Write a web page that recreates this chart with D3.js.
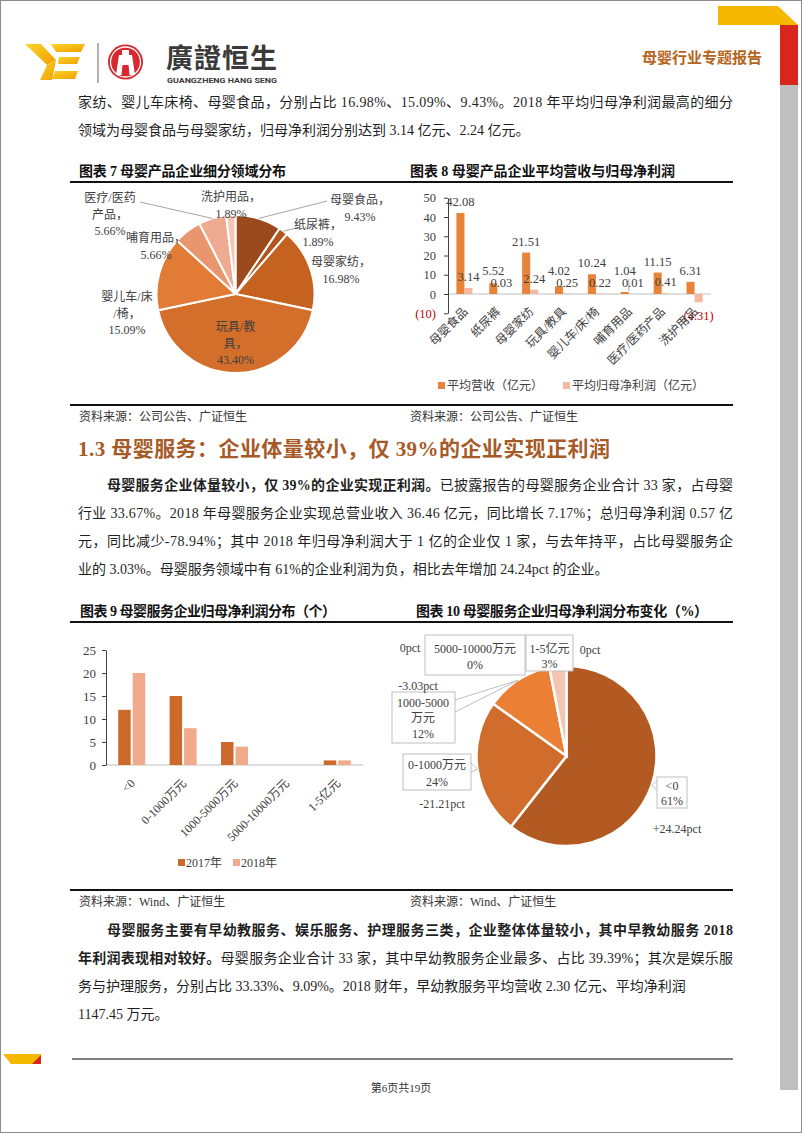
<!DOCTYPE html>
<html><head><meta charset="utf-8">
<script src="https://cdn.jsdelivr.net/npm/d3@7/dist/d3.min.js"></script>
<style>html,body{margin:0;padding:0;background:#fff;} svg{display:block;}</style>
</head><body>
<svg id="page" width="802" height="1133"></svg>
<script>
// ---------------- DATA ----------------
const pie7Categories = ["母婴食品","纸尿裤","母婴家纺","玩具/教具","婴儿车/床/椅","哺育用品","医疗/医药产品","洗护用品"];
const pie7Values = [9.43, 1.89, 16.98, 43.40, 15.09, 5.66, 5.66, 1.89];

const bar8Categories = ["母婴食品","纸尿裤","母婴家纺","玩具/教具","婴儿车/床/椅","哺育用品","医疗/医药产品","洗护用品"];
const bar8Revenue = [42.08, 5.52, 21.51, 4.02, 10.24, 1.04, 11.15, 6.31];
const bar8Profit = [3.14, 0.03, 2.24, 0.25, 0.22, 0.01, 0.41, -4.31];
const bar8Ticks = [-10, 0, 10, 20, 30, 40, 50];
const bar8Series = ["平均营收（亿元）", "平均归母净利润（亿元）"];

const bar9Categories = ["<0","0-1000万元","1000-5000万元","5000-10000万元","1-5亿元"];
const bar9Y2017 = [12, 15, 5, 0, 1];
const bar9Y2018 = [20, 8, 4, 0, 1];
const bar9Ticks = [0, 5, 10, 15, 20, 25];
const bar9Series = ["2017年", "2018年"];

const pie10Categories = ["<0","0-1000万元","1000-5000万元","5000-10000万元","1-5亿元"];
const pie10Values = [60.61, 24.24, 12.12, 0, 3.03];
const pie10Change = ["+24.24pct","-21.21pct","-3.03pct","0pct","0pct"];

// ---------------- STYLE / LAYOUT ----------------
const SERIF = "'Liberation Serif','Noto Sans CJK SC',serif";
const SANS = "'Noto Sans CJK SC','Noto Sans',sans-serif";
const BROWN = "#a65a28";

const pie7Colors = ["#9a4a1c","#b3551f","#c6621f","#d36f2b","#e27b36","#e9956e","#eeab92","#f4c6b5"];
// label placement relative to pie centre: [dx, dy(first baseline), wrap length]
const pie7Label = {
  "母婴食品": {dx:124.5, dy:-90, wrap:0, lead:[91.5,-93]},
  "纸尿裤": {dx:82.5, dy:-65, wrap:0, lead:[64.5,-67]},
  "母婴家纺": {dx:105.5, dy:-28, wrap:0},
  "玩具/教具": {dx:0, dy:37, wrap:4},
  "婴儿车/床/椅": {dx:-108.5, dy:7, wrap:5},
  "哺育用品": {dx:-79.5, dy:-52, wrap:0},
  "医疗/医药产品": {dx:-125.5, dy:-92, wrap:5, lead:[-95.5,-92]},
  "洗护用品": {dx:-4.5, dy:-93, wrap:0}
};
const pie10Colors = ["#b35a22","#d06d2c","#eb8035","#e9956e","#f4c5b3"];
const pie10Label = {
  "<0": {box:[90.5,21,120.5,52], tx:105.5, lines:["<0"], ty:[34,49], cx:110.5, cy:77, ptr:["left",25,34]},
  "0-1000万元": {box:[-163.5,-2,-95.5,34], tx:-129.5, lines:["0-1000万元"], ty:[13,30], cx:-124.5, cy:52, ptr:["right",7,16]},
  "1000-5000万元": {box:[-174.5,-64,-111.5,-13], tx:-143.5, lines:["1000-5000","万元"], ty:[-49,-34,-18], cx:-148.5, cy:-66, ptr:["right",-56,-44]},
  "5000-10000万元": {box:[-141.5,-121,-41.5,-81], tx:-91.5, lines:["5000-10000万元"], ty:[-103,-87], cx:-156.5, cy:-104},
  "1-5亿元": {box:[-40.5,-121,6.5,-85], tx:-17, lines:["1-5亿元"], ty:[-103,-88], cx:23.5, cy:-102}
};

const P = d3.select("#page");
P.append("rect").attr("width",802).attr("height",1133).attr("fill","#fff");

function addText(g, o) {
  const t = g.append("text").attr("x", o.x).attr("y", o.y)
    .attr("font-family", o.family || SERIF).attr("font-size", o.size || 14)
    .attr("fill", o.fill || "#1f1f1f").attr("text-anchor", o.anchor || "start");
  if (o.weight) t.attr("font-weight", o.weight);
  (o.parts || [[o.text, 0]]).forEach(p => {
    const s = t.append("tspan").text(p[0]);
    if (p[1]) s.attr("font-weight", "bold");
  });
  if (o.width) t.attr("textLength", o.width).attr("lengthAdjust", "spacing");
  return t;
}

// ---------------- PAGE DECORATION ----------------
P.append("polygon").attr("points","718,6 778,6 798,25 718,25").attr("fill","#f5b800");
P.append("rect").attr("x",780).attr("y",25).attr("width",18).attr("height",60).attr("fill","#d9261c");
P.append("rect").attr("x",780).attr("y",85).attr("width",18).attr("height",1005).attr("fill","#bfbfbf");
P.append("polygon").attr("points","3,1054 41,1054 41,1064 11,1064").attr("fill","#f5b800");
P.append("polygon").attr("points","41,1055 41,1064 32,1064").attr("fill","#d9261c");
P.append("line").attr("x1",72).attr("x2",733).attr("y1",1059).attr("y2",1059).attr("stroke","#7f7f7f").attr("stroke-width",2);
P.append("rect").attr("x",0.5).attr("y",0.5).attr("width",801).attr("height",1132).attr("fill","none").attr("stroke","#8c8c8c");
addText(P,{x:401,y:1092,text:"第6页共19页",size:11,anchor:"middle",fill:"#333"});

// logo
const defs = P.append("defs");
const lg = defs.append("linearGradient").attr("id","ye").attr("x1","0").attr("y1","0").attr("x2","1").attr("y2","1");
lg.append("stop").attr("offset","0").attr("stop-color","#fdd22a");
lg.append("stop").attr("offset","1").attr("stop-color","#f0a000");
const logo = P.append("g").attr("fill","url(#ye)");
["M25,44 L41,44 L56,60 L47,65 Z","M47,65 L56,60 L52,80 L40,80 Z","M51,44 L85,44 L81,52 L56,52 Z",
 "M59,57 L80,57 L77,64 L58,64 Z","M55,71 L78,71 L75,79 L52,79 Z"].forEach(d=>logo.append("path").attr("d",d));
P.append("line").attr("x1",98).attr("x2",98).attr("y1",43).attr("y2",83).attr("stroke","#666").attr("stroke-width",1);
P.append("circle").attr("cx",125.5).attr("cy",62).attr("r",17.5).attr("fill","#d7282f");
P.append("circle").attr("cx",125.5).attr("cy",62).attr("r",15).attr("fill","none").attr("stroke","#fff").attr("stroke-width",1.3);
P.append("path").attr("d","M116,75 L119,55 L122,55 L122,50 L129,50 L129,55 L132,55 L135,75 L129.5,75 L128.5,65 L122.5,65 L121.5,75 Z").attr("fill","#fff");
addText(P,{x:166,y:68,text:"廣證恒生",size:27,weight:"bold",family:"'Noto Sans CJK TC','Noto Sans CJK SC',sans-serif",fill:"#3a3a3a",width:111});
P.append("text").attr("x",167).attr("y",83).attr("font-family","Roboto,'Noto Sans',sans-serif").attr("font-weight","bold")
  .attr("font-size",8).attr("fill","#3a3a3a").attr("textLength",110).attr("lengthAdjust","spacingAndGlyphs").text("GUANGZHENG HANG SENG");
addText(P,{x:762,y:63,text:"母婴行业专题报告",size:15,weight:"bold",family:SANS,fill:"#b5651d",anchor:"end"});

// ---------------- BODY TEXT ----------------
const body = [
  {x:78,y:107,parts:[["家纺、婴儿车床椅、母婴食品，分别占比 16.98%、15.09%、9.43%。2018 年平均归母净利润最高的细分",0]],width:655},
  {x:78,y:135,parts:[["领域为母婴食品与母婴家纺，归母净利润分别达到 3.14 亿元、2.24 亿元。",0]]},
  {x:107,y:490,parts:[["母婴服务企业体量较小，仅 39%的企业实现正利润。",1],["已披露报告的母婴服务企业合计 33 家，占母婴",0]],width:626},
  {x:78,y:518,parts:[["行业 33.67%。2018 年母婴服务企业实现总营业收入 36.46 亿元，同比增长 7.17%；总归母净利润 0.57 亿",0]],width:655},
  {x:78,y:546,parts:[["元，同比减少-78.94%；其中 2018 年归母净利润大于 1 亿的企业仅 1 家，与去年持平，占比母婴服务企",0]],width:655},
  {x:78,y:574,parts:[["业的 3.03%。母婴服务领域中有 61%的企业利润为负，相比去年增加 24.24pct 的企业。",0]]},
  {x:107,y:935,parts:[["母婴服务主要有早幼教服务、娱乐服务、护理服务三类，企业整体体量较小，其中早教幼服务 2018",1]],width:626},
  {x:78,y:963,parts:[["年利润表现相对较好。",1],["母婴服务企业合计 33 家，其中早幼教服务企业最多、占比 39.39%；其次是娱乐服",0]],width:655},
  {x:78,y:991,parts:[["务与护理服务，分别占比 33.33%、9.09%。2018 财年，早幼教服务平均营收 2.30 亿元、平均净利润",0]]},
  {x:78,y:1019,parts:[["1147.45 万元。",0]]}
];
body.forEach(b => addText(P, b));
addText(P,{x:78,y:456,text:"1.3 母婴服务：企业体量较小，仅 39%的企业实现正利润",size:21,weight:"bold",fill:BROWN,width:532});

// chart titles, rules and sources
[[79,176,"图表 7 母婴产品企业细分领域分布",207],[410,176,"图表 8 母婴产品企业平均营收与归母净利润",265],
 [80,616,"图表 9 母婴服务企业归母净利润分布（个）",256],[416,616,"图表 10 母婴服务企业归母净利润分布变化（%）",292]]
 .forEach(t => addText(P,{x:t[0],y:t[1],text:t[2],size:14,weight:"bold",fill:"#111",width:t[3]}));
[182,405,622,890].forEach(y => P.append("line").attr("x1",70).attr("x2",733).attr("y1",y).attr("y2",y).attr("stroke","#111").attr("stroke-width",2));
[[79,421,"资料来源：公司公告、广证恒生"],[410,421,"资料来源：公司公告、广证恒生"],[79,906,"资料来源：Wind、广证恒生"],[410,906,"资料来源：Wind、广证恒生"]]
 .forEach(t => addText(P,{x:t[0],y:t[1],text:t[2],size:12,fill:"#333"}));

// ---------------- CHART 7 : PIE ----------------
(function(){
  const cx = 235.5, cy = 294, r = 79;
  const g = P.append("g").attr("transform",`translate(${cx},${cy})`);
  const arcs = d3.pie().sort(null).value(d=>d)(pie7Values);
  const arc = d3.arc().innerRadius(0).outerRadius(r);
  g.selectAll("path").data(arcs).join("path").attr("d",arc)
    .attr("fill",(d,i)=>pie7Colors[i]).attr("stroke","#fff").attr("stroke-width",2);
  arcs.forEach((a,i)=>{
    const cat = pie7Categories[i], L = pie7Label[cat];
    const mid = (a.startAngle + a.endAngle)/2;
    if (L.lead) {
      g.append("line").attr("x1",Math.sin(mid)*r).attr("y1",-Math.cos(mid)*r)
        .attr("x2",L.lead[0]).attr("y2",L.lead[1]).attr("stroke","#a6a6a6").attr("stroke-width",1);
    }
    const head = cat + "，";
    const lines = L.wrap ? [head.slice(0,L.wrap), head.slice(L.wrap)] : [head];
    lines.push(d3.format(".2f")(pie7Values[i]) + "%");
    lines.forEach((s,k)=> addText(g,{x:L.dx,y:L.dy+k*16.5,text:s,size:12,fill:"#404040",anchor:"middle"}));
  });
})();

// ---------------- CHART 8 : BARS ----------------
(function(){
  const g = P.append("g");
  const x = d3.scaleBand().domain(bar8Categories).range([448,711]);
  const y = d3.scaleLinear().domain([-10,50]).range([313.25,197.75]);
  const bw = x.bandwidth()*0.245;
  const c = d => x(d) + x.bandwidth()/2;
  g.append("line").attr("x1",448).attr("x2",711).attr("y1",y(0)).attr("y2",y(0)).attr("stroke","#bfbfbf");
  g.selectAll("rect.rev").data(bar8Categories).join("rect").attr("class","rev")
    .attr("x",d=>c(d)-bw).attr("width",bw)
    .attr("y",(d,i)=>y(Math.max(0,bar8Revenue[i]))).attr("height",(d,i)=>Math.abs(y(bar8Revenue[i])-y(0)))
    .attr("fill","#e8833a");
  g.selectAll("rect.pro").data(bar8Categories).join("rect").attr("class","pro")
    .attr("x",d=>c(d)).attr("width",bw)
    .attr("y",(d,i)=>y(Math.max(0,bar8Profit[i]))).attr("height",(d,i)=>Math.abs(y(bar8Profit[i])-y(0)))
    .attr("fill","#f5b8a0");
  const ax = g.append("g").attr("transform","translate(448,0)")
    .call(d3.axisLeft(y).tickValues(bar8Ticks).tickSize(4).tickSizeOuter(0).tickPadding(8).tickFormat(d=>d<0?`(${-d})`:d));
  ax.select(".domain").attr("stroke","#404040");
  ax.selectAll(".tick line").attr("stroke","#404040");
  ax.selectAll(".tick text").attr("font-family",SERIF).attr("font-size",12.5)
    .attr("fill",d=>d<0?"#c00000":"#404040");
  bar8Categories.forEach((d,i)=>{
    const v = bar8Revenue[i];
    const natural = y(v) - 7, by = Math.min(natural, y(0) - 19);
    if (natural - by > 5) g.append("line").attr("x1",c(d)).attr("x2",c(d)).attr("y1",by+4).attr("y2",y(v)-1).attr("stroke","#a6a6a6");
    addText(g,{x:c(d)-bw/2,y:by,text:d3.format(".2f")(v),size:12.5,fill:"#404040",anchor:"middle"});
    const p = bar8Profit[i];
    const py = p >= 0 ? y(p) - 7 : y(p) + 18;
    addText(g,{x:c(d)+bw/2,y:py,text:p<0?`(${d3.format(".2f")(-p)})`:d3.format(".2f")(p),size:12.5,fill:p<0?"#c00000":"#404040",anchor:"middle"});
    g.append("text").attr("transform",`translate(${c(d)+4},${y(-10)-1}) rotate(-45)`).attr("text-anchor","end")
      .attr("font-family",SERIF).attr("font-size",12).attr("fill","#404040").text(d);
  });
  const cols = ["#e8833a","#f5b8a0"], lx = [438,563];
  bar8Series.forEach((s,i)=>{
    g.append("rect").attr("x",lx[i]).attr("y",382).attr("width",7).attr("height",7).attr("fill",cols[i]);
    addText(g,{x:lx[i]+9,y:390,text:s,size:12,fill:"#404040"});
  });
})();

// ---------------- CHART 9 : BARS ----------------
(function(){
  const g = P.append("g");
  const x = d3.scaleBand().domain(bar9Categories).range([106,363]);
  const y = d3.scaleLinear().domain([0,25]).range([765,650]);
  const bw = 12.5;
  const c = d => x(d) + x.bandwidth()/2;
  g.append("line").attr("x1",106).attr("x2",363).attr("y1",y(0)).attr("y2",y(0)).attr("stroke","#bfbfbf");
  const series = [bar9Y2017, bar9Y2018], cols = ["#cd6a2b","#f2aa8c"];
  series.forEach((vals,s)=>{
    g.selectAll("rect.s"+s).data(bar9Categories).join("rect").attr("class","s"+s)
      .attr("x",d=> s===0 ? c(d)-1-bw : c(d)+1).attr("width",bw)
      .attr("y",(d,i)=>y(vals[i])).attr("height",(d,i)=>y(0)-y(vals[i])).attr("fill",cols[s]);
  });
  const ax = g.append("g").attr("transform","translate(106,0)")
    .call(d3.axisLeft(y).tickValues(bar9Ticks).tickSize(4).tickSizeOuter(0).tickPadding(6));
  ax.select(".domain").attr("stroke","#404040");
  ax.selectAll(".tick line").attr("stroke","#404040");
  ax.selectAll(".tick text").attr("font-family",SERIF).attr("font-size",13).attr("fill","#404040");
  bar9Categories.forEach(d=>{
    g.append("text").attr("transform",`translate(${c(d)+4},${y(0)+19}) rotate(-45)`).attr("text-anchor","end")
      .attr("font-family",SERIF).attr("font-size",12).attr("fill","#404040").text(d);
  });
  const lx = [178,233];
  bar9Series.forEach((s,i)=>{
    g.append("rect").attr("x",lx[i]).attr("y",859).attr("width",7).attr("height",7).attr("fill",cols[i]);
    addText(g,{x:lx[i]+8,y:867,text:s,size:12,fill:"#404040"});
  });
})();

// ---------------- CHART 10 : PIE ----------------
(function(){
  const cx = 566.5, cy = 756, r = 90;
  const g = P.append("g").attr("transform",`translate(${cx},${cy})`);
  const arcs = d3.pie().sort(null).value(d=>d)(pie10Values);
  const arc = d3.arc().innerRadius(0).outerRadius(r);
  g.selectAll("path").data(arcs.filter(a=>a.value>0)).join("path").attr("d",arc)
    .attr("fill",a=>pie10Colors[a.index]).attr("stroke","#fff").attr("stroke-width",2.5);
  arcs.forEach((a,i)=>{
    const cat = pie10Categories[i], L = pie10Label[cat];
    const mid = (a.startAngle + a.endAngle)/2;
    const tip = [Math.sin(mid)*r, -Math.cos(mid)*r];
    if (L.ptr) {
      const ex = L.ptr[0]==="left" ? L.box[0] : L.box[2];
      g.append("path").attr("d",`M${ex},${L.ptr[1]} L${tip[0]},${tip[1]} L${ex},${L.ptr[2]}`)
        .attr("fill","#fff").attr("stroke","#bfbfbf");
    }
    g.append("rect").attr("x",L.box[0]).attr("y",L.box[1]).attr("width",L.box[2]-L.box[0]).attr("height",L.box[3]-L.box[1])
      .attr("fill","#fff").attr("stroke","#bfbfbf");
    const lines = L.lines.concat([d3.format(".0f")(pie10Values[i]) + "%"]);
    lines.forEach((s,k)=> addText(g,{x:L.tx,y:L.ty[k],text:s,size:12,fill:"#404040",anchor:"middle"}));
    addText(g,{x:L.cx,y:L.cy,text:pie10Change[i],size:12,fill:"#404040",anchor:"middle"});
  });
})();
</script>
</body></html>
